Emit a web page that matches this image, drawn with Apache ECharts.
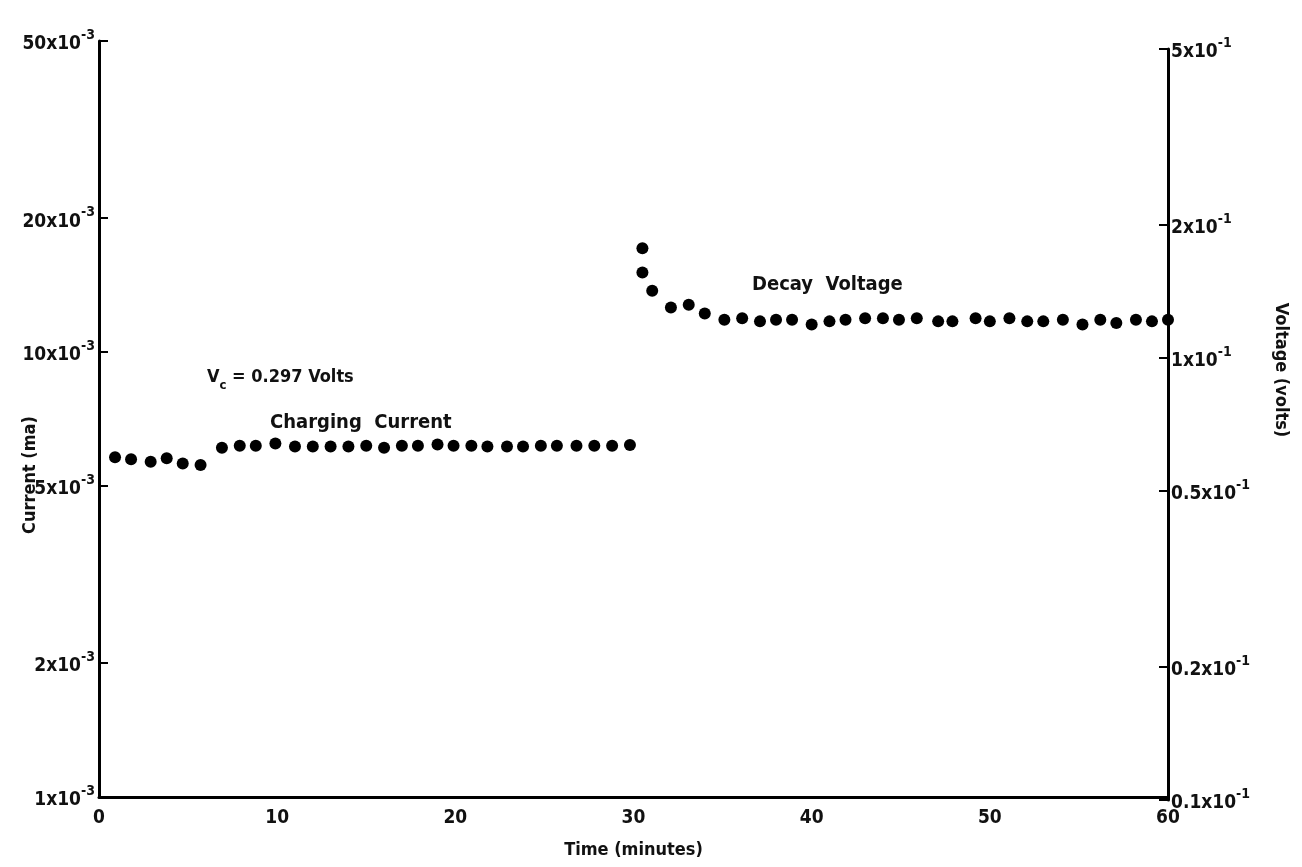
<!DOCTYPE html>
<html>
<head>
<meta charset="utf-8">
<script src="https://cdn.jsdelivr.net/npm/echarts@6/dist/echarts.min.js"></script>
<style>
  html, body { margin: 0; padding: 0; background: #fff; }
  #chart { width: 1302px; height: 867px; }
</style>
</head>
<body>
<div id="chart"></div>
<script>
// ---- Data ----
// Charging current, in units of 10^-3 mA, vs time (minutes)
var chargingTime = [0.9, 1.8, 2.9, 3.8, 4.7, 5.7, 6.9, 7.9, 8.8, 9.9, 11.0, 12.0, 13.0, 14.0, 15.0,
                    16.0, 17.0, 17.9, 19.0, 19.9, 20.9, 21.8, 22.9, 23.8, 24.8, 25.7, 26.8, 27.8, 28.8, 29.8];
var chargingCurrent = [5.80, 5.74, 5.67, 5.77, 5.62, 5.57, 6.09, 6.16, 6.16, 6.23, 6.13, 6.13, 6.13, 6.13, 6.16,
                       6.09, 6.16, 6.16, 6.20, 6.16, 6.16, 6.13, 6.13, 6.13, 6.16, 6.16, 6.16, 6.16, 6.16, 6.18];
// Decay voltage, in units of 10^-1 V, vs time (minutes)
var decayTime = [30.5, 30.5, 31.05, 32.1, 33.1, 34.0, 35.1, 36.1, 37.1, 38.0, 38.9, 40.0, 41.0, 41.9, 43.0, 44.0,
                 44.9, 45.9, 47.1, 47.9, 49.2, 50.0, 51.1, 52.1, 53.0, 54.1, 55.2, 56.2, 57.1, 58.2, 59.1, 60.0];
var decayVoltage = [1.77, 1.56, 1.42, 1.30, 1.32, 1.26, 1.22, 1.23, 1.21, 1.22, 1.22, 1.19, 1.21, 1.22, 1.23, 1.23,
                    1.22, 1.23, 1.21, 1.21, 1.23, 1.21, 1.23, 1.21, 1.21, 1.22, 1.19, 1.22, 1.20, 1.22, 1.21, 1.22];
// Tick values
var xTicks = [0, 10, 20, 30, 40, 50, 60];
var leftTicks = [1, 2, 5, 10, 20, 50];          // x10^-3
var rightTicks = [0.1, 0.2, 0.5, 1, 2, 5];      // x10^-1

var FONT = '"DejaVu Sans Condensed", "Liberation Sans Narrow", "Roboto Condensed", "DejaVu Sans", sans-serif';

function pairs(xs, ys) {
  return xs.map(function (x, i) { return [x, ys[i]]; });
}
function fmtNum(v) { return String(Number(v.toPrecision(3))); }

var richLabel = {
  m: { fontFamily: FONT, fontWeight: 'bold', fontSize: 19, color: '#111', lineHeight: 26, verticalAlign: 'bottom' },
  s: { fontFamily: FONT, fontWeight: 'bold', fontSize: 14, color: '#111', lineHeight: 26, verticalAlign: 'top' }
};

var chart = echarts.init(document.getElementById('chart'), null, { renderer: 'canvas' });
var option = {
  backgroundColor: '#ffffff',
  animation: false,
  grid: [
    { left: 99, right: 134, top: 41, bottom: 70, containLabel: false },
    { left: 99, right: 134, top: 49, bottom: 67, containLabel: false }
  ],
  xAxis: [
    {
      type: 'value', gridIndex: 0, min: 0, max: 60, interval: 10,
      name: 'Time (minutes)', nameLocation: 'middle', nameGap: 44,
      nameTextStyle: { fontFamily: FONT, fontWeight: 'bold', fontSize: 18, color: '#111' },
      axisLine: { onZero: false, lineStyle: { color: '#000', width: 3 } },
      axisTick: { show: false },
      splitLine: { show: false },
      axisLabel: { fontFamily: FONT, fontWeight: 'bold', fontSize: 19, color: '#111', margin: 12,
                   customValues: xTicks }
    },
    {
      type: 'value', gridIndex: 1, min: 0, max: 60, show: false,
      splitLine: { show: false }
    }
  ],
  yAxis: [
    {
      type: 'log', gridIndex: 0, logBase: 10, min: 1, max: 50, position: 'left',
      axisLine: { show: true, onZero: false, lineStyle: { color: '#000', width: 3 } },
      axisTick: { show: true, inside: true, length: 9, lineStyle: { color: '#000', width: 2 }, customValues: leftTicks },
      splitLine: { show: false },
      minorTick: { show: false },
      axisLabel: {
        margin: 4, customValues: leftTicks,
        formatter: function (v) { return '{m|' + fmtNum(v) + 'x10}{s|-3}'; },
        rich: richLabel
      }
    },
    {
      type: 'log', gridIndex: 1, logBase: 10, min: 0.1, max: 5, position: 'right',
      axisLine: { show: true, onZero: false, lineStyle: { color: '#000', width: 3 } },
      axisTick: { show: true, inside: true, length: 9, lineStyle: { color: '#000', width: 2 }, customValues: rightTicks },
      splitLine: { show: false },
      minorTick: { show: false },
      axisLabel: {
        margin: 3, customValues: rightTicks,
        formatter: function (v) { return '{m|' + fmtNum(v) + 'x10}{s|-1}'; },
        rich: richLabel
      }
    }
  ],
  series: [
    {
      name: 'Charging Current', type: 'scatter', xAxisIndex: 0, yAxisIndex: 0,
      symbol: 'circle', symbolSize: 12,
      itemStyle: { color: '#000', opacity: 1 },
      data: pairs(chargingTime, chargingCurrent)
    },
    {
      name: 'Decay Voltage', type: 'scatter', xAxisIndex: 1, yAxisIndex: 1,
      symbol: 'circle', symbolSize: 12,
      itemStyle: { color: '#000', opacity: 1 },
      data: pairs(decayTime, decayVoltage)
    }
  ],
  graphic: [
    { type: 'text', left: 207, top: 368,
      style: { text: '{m|V}{c|c}{m| = 0.297 Volts}', rich: {
        m: { fontFamily: FONT, fontWeight: 'bold', fontSize: 18, fill: '#111', verticalAlign: 'top', lineHeight: 24 },
        c: { fontFamily: FONT, fontWeight: 'bold', fontSize: 13, fill: '#111', verticalAlign: 'bottom', lineHeight: 24 }
      } } },
    { type: 'text', left: 270, top: 413,
      style: { text: 'Charging  Current', fontFamily: FONT, fontWeight: 'bold', fontSize: 20, fill: '#111' } },
    { type: 'text', left: 752, top: 275,
      style: { text: 'Decay  Voltage', fontFamily: FONT, fontWeight: 'bold', fontSize: 20, fill: '#111' } },
    { type: 'text', x: 30, y: 475, rotation: Math.PI / 2,
      style: { text: 'Current (ma)', fontFamily: FONT, fontWeight: 'bold', fontSize: 18, fill: '#111',
               align: 'center', verticalAlign: 'middle' } },
    { type: 'text', x: 1281, y: 370, rotation: -Math.PI / 2,
      style: { text: 'Voltage (volts)', fontFamily: FONT, fontWeight: 'bold', fontSize: 18, fill: '#111',
               align: 'center', verticalAlign: 'middle' } }
  ]
};
chart.setOption(option);
</script>
</body>
</html>
